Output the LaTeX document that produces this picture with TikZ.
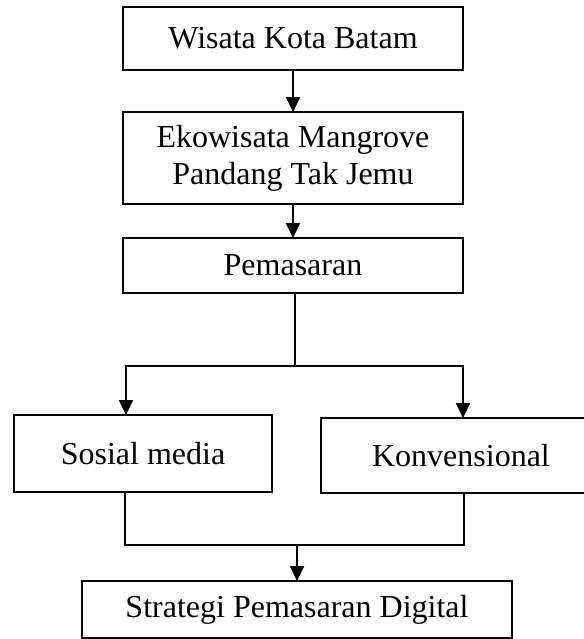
\documentclass[tikz,border=0pt]{standalone}
\usepackage{fontspec}
\setmainfont{Liberation Serif}
\usetikzlibrary{arrows.meta, positioning}
\tikzset{
  block/.style={rectangle, draw, line width=1.3pt, inner sep=0pt, outer sep=0pt, text centered, align=center},
  arrow/.style={-{Triangle[length=7.5pt, width=7pt]}, line width=1.1pt},
  link/.style={line width=0.8pt}
}

\begin{document}
\begin{tikzpicture}[x=0.5pt, y=-0.5pt, every node/.style={font=\fontsize{16pt}{18.5pt}\selectfont}]
  \useasboundingbox (0,0) rectangle (584,639);
  \clip (0,0) rectangle (584,639);
  % Nodes
  \node[block, minimum width=170pt, minimum height=31.5pt] (wisata) at (293,38.5) {Wisata Kota Batam};
  \node[block, minimum width=170pt, minimum height=46pt] (ekowisata) at (293,158) {\raisebox{-2pt}{Ekowisata Mangrove}\\\raisebox{-2pt}{Pandang Tak Jemu}};
  \node[block, minimum width=170pt, minimum height=27.5pt] (pemasaran) at (293,265.5) {Pemasaran};
  \node[block, minimum width=129pt, minimum height=38.5pt] (sosmed) at (143,453.5) {Sosial media};
  \node[block, minimum width=140pt, minimum height=37.5pt] (konvensional) at (461,455.5) {Konvensional};
  \node[block, minimum width=215pt, minimum height=28.5pt] (strategi) at (297,609.5) {Strategi Pemasaran Digital};

  % Junction points
  \coordinate (split) at (295,366);
  \coordinate (kiri) at (126,366);
  \coordinate (kanan) at (463,366);
  \coordinate (gabung) at (297,545);
  \coordinate (bawahkiri) at (125,545);
  \coordinate (bawahkanan) at (464,545);

  % Connections
  \draw[arrow] (wisata) -- (ekowisata);
  \draw[arrow] (ekowisata) -- (pemasaran);
  \draw[link] (pemasaran.south -| split) -- (split);
  \draw[arrow] (split) -- (kiri) -- (kiri |- sosmed.north);
  \draw[arrow] (split) -- (kanan) -- (kanan |- konvensional.north);
  \draw[link] (bawahkiri |- sosmed.south) -- (bawahkiri) -- (bawahkanan) -- (bawahkanan |- konvensional.south);
  \draw[arrow] (gabung) -- (strategi);
\end{tikzpicture}
\end{document}
